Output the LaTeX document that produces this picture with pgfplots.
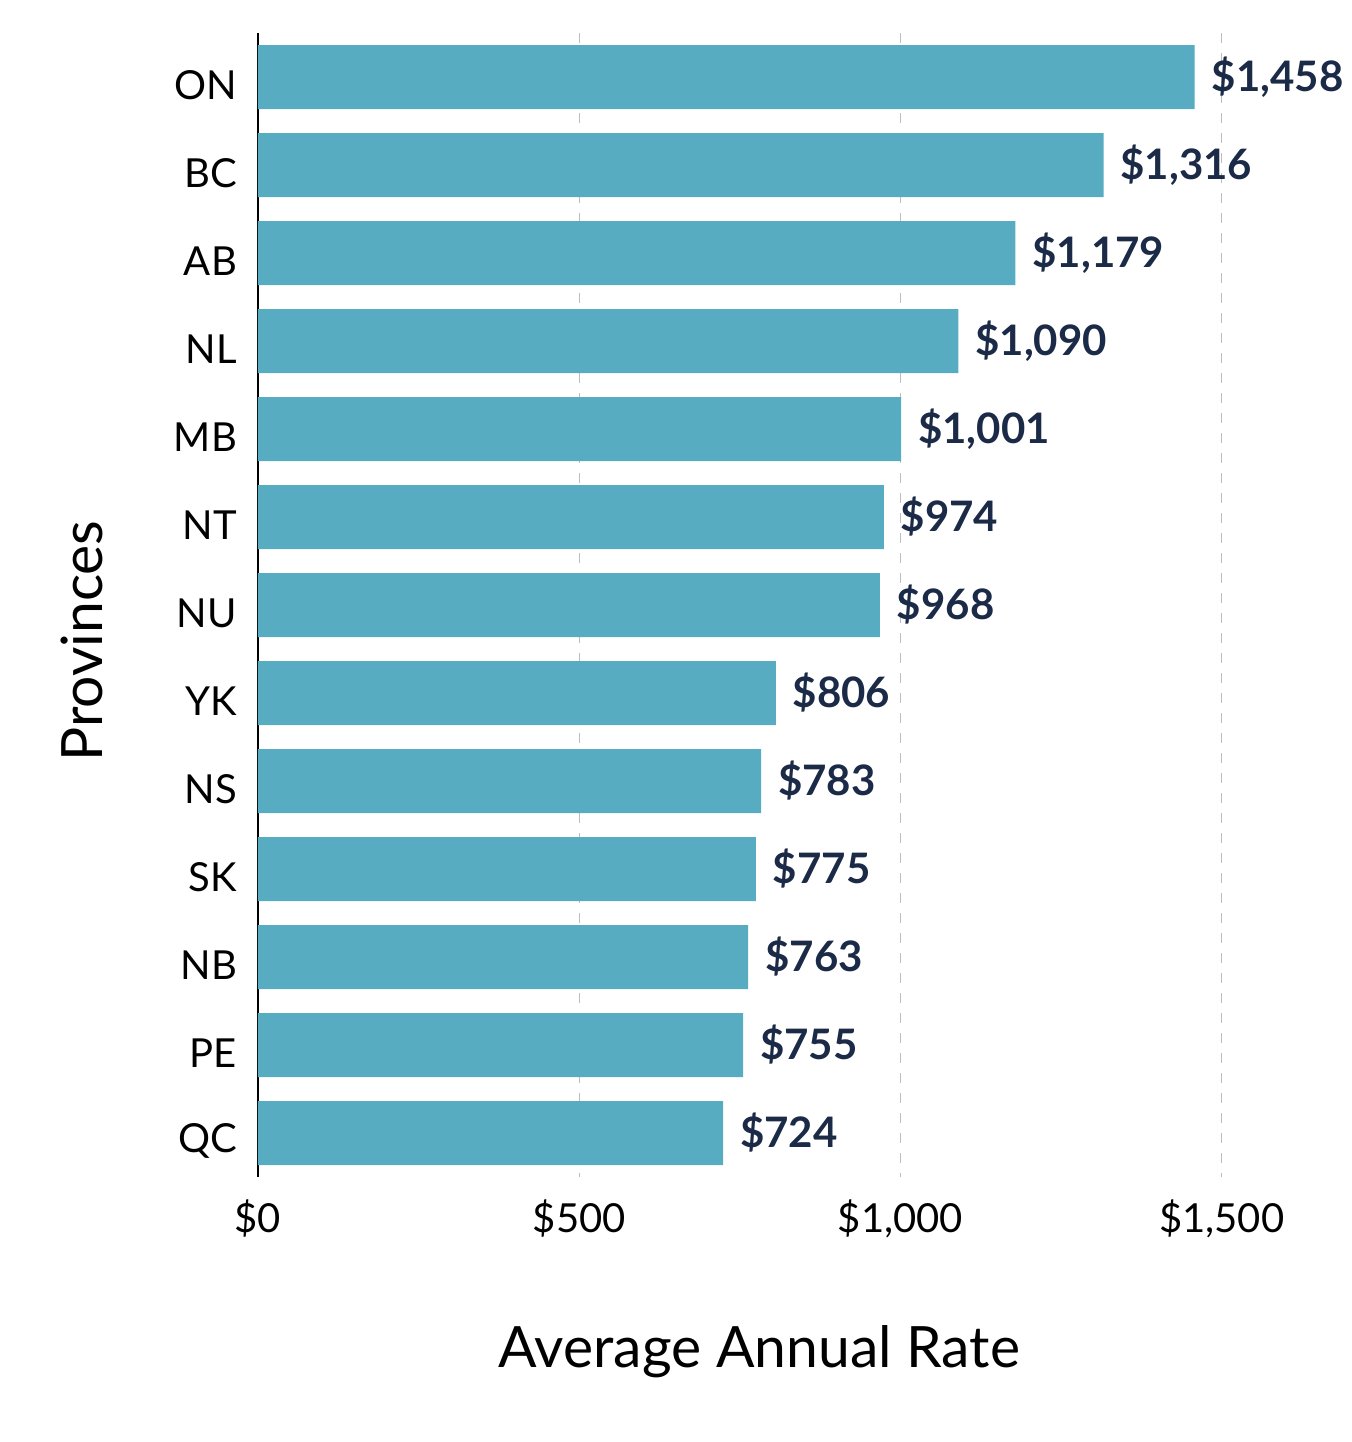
\documentclass[border=0pt]{standalone}
\usepackage{pgfplots}
\pgfplotsset{compat=1.18}
\usepackage{fontspec}
\setmainfont{Lato}
\definecolor{barc}{HTML}{57ACC2}
\definecolor{valc}{HTML}{1B2A47}
\definecolor{gridc}{HTML}{BDBDBD}
\begin{document}
\begin{tikzpicture}
\begin{axis}[
  name=ax,
  scale only axis=true,
  width=491.5pt, height=572pt,
  xbar, bar width=32pt,
  xmin=0, xmax=1530,
  ymin=-0.5, ymax=12.5,
  y dir=reverse,
  ytick={0,...,12},
  yticklabels={ON,BC,AB,NL,MB,NT,NU,YK,NS,SK,NB,PE,QC},
  xtick={0,500,1000,1500},
  xticklabels={{\$0},{\$500},{\$1,000},{\$1,500}},
  /pgf/number format/assume math mode=true,
  major tick length=0pt,
  axis lines*=left,
  x axis line style={draw=none},
  y axis line style={black, line width=1pt},
  xmajorgrids=true,
  grid style={gridc, dashed, line width=0.6pt, dash pattern=on 5pt off 5pt},
  ticklabel style={font=\fontsize{20}{23}\selectfont, black},
  xticklabel style={yshift=-8pt},
  yticklabel style={xshift=-7pt, yshift=-4pt},
  xlabel={Average Annual Rate},
  ylabel={Provinces},
  label style={font=\fontsize{28.5}{32}\selectfont},
  xlabel style={at={(axis description cs:0.51,0)}, anchor=center, yshift=-87.5pt},
  ylabel style={at={(axis description cs:-0.179,0.4685)}, anchor=center},
  clip=false,
  point meta=x,
  nodes near coords={\$\pgfmathprintnumber[fixed,precision=0,1000 sep={,}]{\pgfplotspointmeta}},
  nodes near coords style={anchor=west, xshift=5pt, font=\bfseries\fontsize{21}{25}\selectfont, text=valc},
]
\addplot[fill=barc, draw=none] coordinates {
 (1458,0) (1316,1) (1179,2) (1090,3) (1001,4) (974,5) (968,6)
 (806,7) (783,8) (775,9) (763,10) (755,11) (724,12)
};
\end{axis}
\path[use as bounding box] ([shift={(-129pt,-132.5pt)}]ax.south west) rectangle ([shift={(546.5pt,588.5pt)}]ax.south west);
\end{tikzpicture}
\end{document}
